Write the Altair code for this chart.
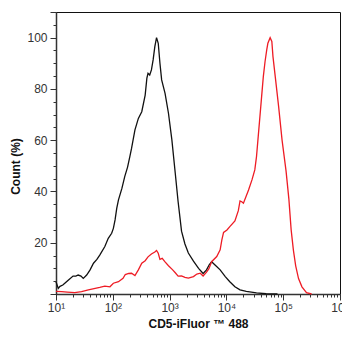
import altair as alt
import pandas as pd

# log10 of fluorescence intensity and count (%) — unstained / control (black)
black_log = [1.00, 1.04, 1.07, 1.12, 1.17, 1.22, 1.30, 1.35, 1.39, 1.44, 1.48, 1.54, 1.60, 1.66,
             1.72, 1.77, 1.86, 1.92, 1.98, 2.01, 2.04, 2.07, 2.10, 2.16, 2.21, 2.26, 2.30, 2.33,
             2.39, 2.45, 2.51, 2.57, 2.60, 2.62, 2.65, 2.68, 2.71, 2.74, 2.77, 2.80, 2.83, 2.86,
             2.92, 2.98, 3.04, 3.10, 3.15, 3.21, 3.27, 3.33, 3.42, 3.51, 3.59, 3.65, 3.70, 3.74,
             3.80, 3.89, 3.98, 4.06, 4.15, 4.24, 4.35, 4.53, 4.70, 4.90]
black_val = [4.8, 2.2, 3.0, 3.5, 4.5, 5.5, 7.0, 7.0, 7.4, 7.0, 6.1, 7.4, 9.4, 12.0,
             13.5, 15.2, 18.5, 21.7, 23.7, 25.6, 28.9, 33.5, 36.7, 41.2, 45.8, 49.5, 53.6, 56.8,
             64.0, 68.5, 71.1, 77.6, 84.2, 86.1, 85.4, 87.4, 91.3, 96.5, 100.0, 97.8, 90.0, 83.5,
             78.3, 70.5, 60.1, 47.0, 36.0, 24.5, 19.5, 16.0, 12.8, 10.0, 8.0, 9.4, 11.5, 12.6,
             11.3, 9.4, 6.8, 4.8, 2.8, 1.6, 1.0, 0.4, 0.1, 0.0]

# CD5-iFluor 488 stained (red)
red_log = [1.00, 1.10, 1.20, 1.33, 1.45, 1.57, 1.69, 1.77, 1.86, 1.95, 2.01, 2.10, 2.18, 2.22,
           2.28, 2.33, 2.39, 2.45, 2.51, 2.57, 2.62, 2.68, 2.74, 2.77, 2.80, 2.83, 2.87, 2.92,
           2.98, 3.05, 3.10, 3.15, 3.21, 3.27, 3.33, 3.42, 3.48, 3.54, 3.59, 3.65, 3.69, 3.74,
           3.83, 3.89, 3.92, 3.95, 4.01, 4.06, 4.15, 4.21, 4.24, 4.27, 4.30, 4.39, 4.45, 4.50,
           4.53, 4.56, 4.59, 4.62, 4.65, 4.68, 4.71, 4.73, 4.77, 4.80, 4.82, 4.86, 4.92, 4.98,
           5.05, 5.10, 5.14, 5.18, 5.22, 5.27, 5.33, 5.41, 5.50]
red_val = [1.0, 0.9, 0.7, 0.5, 0.9, 1.6, 2.2, 2.6, 3.1, 2.8, 4.2, 4.8, 6.1, 7.6,
           8.0, 8.1, 7.2, 9.4, 12.0, 13.0, 14.5, 15.6, 16.4, 17.0, 15.9, 13.5, 13.9, 12.5,
           11.0, 9.5, 8.3, 7.0, 7.1, 6.5, 6.2, 6.8, 7.8, 8.1, 7.0, 8.5, 9.8, 12.6,
           14.6, 17.2, 21.1, 24.0, 25.0, 26.3, 28.5, 32.5, 36.3, 36.0, 35.4, 40.6, 44.5, 48.4,
           53.6, 61.4, 69.2, 77.0, 84.8, 90.6, 95.2, 97.8, 100.0, 98.5, 92.6, 84.8, 73.0, 60.0,
           48.0, 37.0, 25.0, 17.0, 11.0, 6.0, 2.8, 0.5, 0.0]

x_ticks = [k * 10 ** d for d in range(1, 6) for k in range(1, 10)] + [10 ** 6]
y_ticks = list(range(0, 111, 5))

df = pd.concat([
    pd.DataFrame({"x": [10 ** v for v in black_log], "y": black_val, "s": "control", "o": range(len(black_log))}),
    pd.DataFrame({"x": [10 ** v for v in red_log], "y": red_val, "s": "stained", "o": range(len(red_log))}),
])

lg = "log(datum.value)/LN10"
x_axis = alt.Axis(
    values=x_ticks,
    labelExpr=f"abs({lg} - round({lg})) < 0.001 ? '10' + ['⁰','¹','²','³','⁴','⁵','⁶'][round({lg})] : ''",
    tickSize={"condition": {"test": f"abs({lg} - round({lg})) < 0.001", "value": 6}, "value": 3},
    title="CD5-iFluor ™ 488",
    titleFontSize=12, titleFontWeight="bold", titleColor="#111",
    titleY=33, titleBaseline="alphabetic",
    labelFontSize=12, labelColor="#333", labelPadding=2,
    labelFlush=False, labelOverlap=False,
    domainColor="#333", domainWidth=1.5, tickColor="#333", grid=False,
)
y_axis = alt.Axis(
    values=y_ticks,
    labelExpr="datum.value % 20 == 0 && datum.value > 0 && datum.value <= 100 ? datum.value : ''",
    tickSize={"condition": {"test": "datum.value % 20 == 0 || datum.value == 110", "value": 6}, "value": 3},
    title="Count (%)",
    titleFontSize=12, titleFontWeight="bold", titleColor="#111",
    titleAngle=-90, titleX=-41, titleY=154, titleAlign="center", titleBaseline="middle",
    labelFontSize=12, labelColor="#333", labelPadding=3,
    labelOverlap=False, labelFlush=False,
    domainColor="#333", domainWidth=1.5, tickColor="#333", grid=False,
)

chart = alt.Chart(df).mark_line(strokeWidth=1.3, interpolate="linear").encode(
    x=alt.X("x:Q", scale=alt.Scale(type="log", domain=[10, 1e6], nice=False), axis=x_axis),
    y=alt.Y("y:Q", scale=alt.Scale(domain=[0, 110], nice=False), axis=y_axis),
    color=alt.Color("s:N", scale=alt.Scale(domain=["control", "stained"], range=["#111111", "#ee1c25"]), legend=None),
    order="o:Q",
).properties(
    width=284, height=282,
    padding={"left": 48, "top": 4, "right": 2, "bottom": 36},
    autosize=alt.AutoSizeParams(type="none"),
).configure(
    font="Liberation Sans",
).configure_view(
    stroke="#111", strokeWidth=1,
)

chart.save("out.html", embed_options={"renderer": "svg", "actions": False})
